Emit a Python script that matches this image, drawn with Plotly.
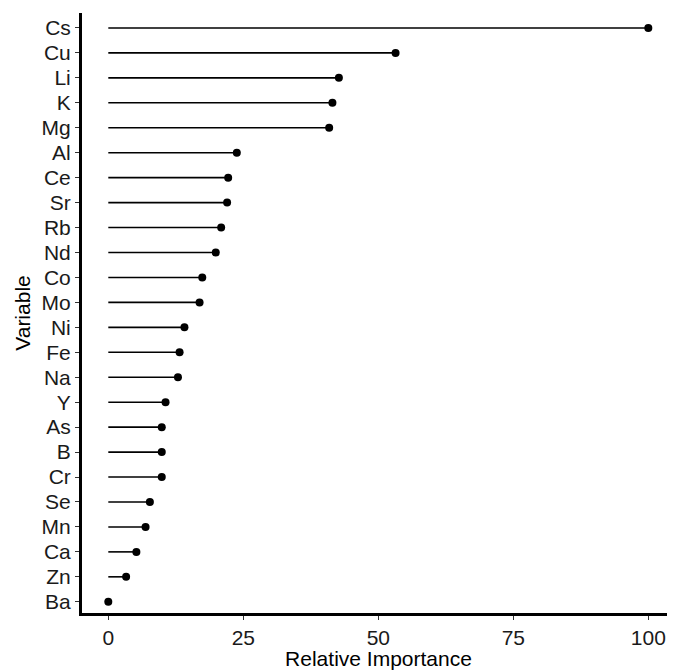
import plotly.graph_objects as go

variables = ["Cs", "Cu", "Li", "K", "Mg", "Al", "Ce", "Sr", "Rb", "Nd", "Co", "Mo",
             "Ni", "Fe", "Na", "Y", "As", "B", "Cr", "Se", "Mn", "Ca", "Zn", "Ba"]
importance = [100.0, 53.2, 42.7, 41.5, 40.9, 23.8, 22.2, 22.0, 20.9, 19.9, 17.4, 16.9,
              14.1, 13.2, 12.9, 10.6, 9.9, 9.9, 9.9, 7.7, 6.9, 5.2, 3.3, 0.0]
x_ticks = [0, 25, 50, 75, 100]

seg_x, seg_y = [], []
for v, val in zip(variables, importance):
    seg_x += [0, val, None]
    seg_y += [v, v, None]

fig = go.Figure()
fig.add_trace(go.Scatter(x=seg_x, y=seg_y, mode="lines",
                         line=dict(color="black", width=1.6), hoverinfo="skip",
                         showlegend=False))
fig.add_trace(go.Scatter(x=importance, y=variables, mode="markers",
                         marker=dict(color="black", size=8), showlegend=False))

font_family = "Liberation Sans, Arial, sans-serif"
FS = 21
# page body has an 8px margin: size the figure so it ends at the window edge
fig.update_layout(
    width=667, height=662,
    margin=dict(l=74, r=0, t=5, b=57),
    plot_bgcolor="white", paper_bgcolor="white",
    font=dict(family=font_family, size=FS, color="black"),
    xaxis=dict(
        range=[-4.87, 104.94], tickmode="array", tickvals=x_ticks,
        ticktext=[str(t) for t in x_ticks],
        showgrid=False, zeroline=False, showline=True, linecolor="black", linewidth=3,
        ticks="outside", ticklen=4, tickwidth=1, tickcolor="#333333",
        tickfont=dict(size=FS, color="#1a1a1a"),
        title=dict(text="Relative Importance", font=dict(size=FS, color="black"), standoff=3),
    ),
    yaxis=dict(
        type="category", categoryorder="array", categoryarray=variables[::-1],
        range=[-0.45, 23.6], tickmode="array", tickvals=variables, ticktext=variables,
        showgrid=False, zeroline=False, showline=True, linecolor="black", linewidth=3,
        ticks="outside", ticklen=4, tickwidth=1, tickcolor="#333333",
        tickfont=dict(size=FS, color="#1a1a1a"),
        title=dict(text="Variable", font=dict(size=FS, color="black"), standoff=6),
    ),
)

fig.write_html("out.html")
